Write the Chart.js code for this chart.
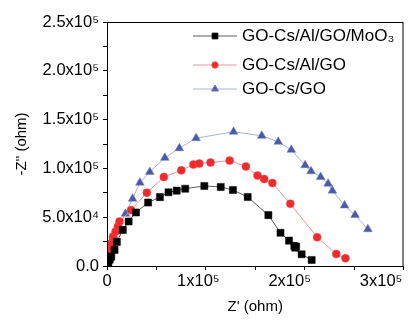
<!DOCTYPE html>
<html>
<head>
<meta charset="utf-8">
<script src="https://cdn.jsdelivr.net/npm/chart.js@4.4.1/dist/chart.umd.min.js"></script>
<style>
  html, body { margin: 0; padding: 0; background: #fff; }
  #wrap { width: 409px; height: 320px; }
</style>
</head>
<body>
<div id="wrap"><canvas id="nyquist" width="409" height="320"></canvas></div>
<script>
// values, in units of 1e4 ohm
const moo3X = [0.05, 0.15, 0.3, 0.47, 0.83, 1.08, 1.73, 2.37, 3.17, 4.5, 5.79, 6.73, 7.63, 8.56, 10.65, 12.45, 13.78, 15.4, 17.66, 18.99, 19.92, 20.5, 20.7, 20.6, 21.3, 22.4];
const moo3Y = [0.1, 0.35, 0.65, 0.96, 1.65, 2.47, 3.7, 4.56, 5.49, 6.5, 7.06, 7.55, 7.72, 7.92, 8.2, 8.1, 7.79, 7.07, 5.21, 3.4, 2.6, 2.06, 1.99, 1.88, 1.2, 0.62];

const alGoX = [0.1, 0.2, 0.35, 0.5, 0.65, 0.94, 1.19, 1.37, 2.63, 4.36, 6.22, 8.13, 9.46, 10.1, 11.33, 13.42, 15.2, 16.47, 17.2, 18.1, 20.06, 23.0, 25.1, 26.1];
const alGoY = [0.3, 0.9, 1.6, 2.3, 3.0, 3.53, 4.04, 4.56, 5.73, 7.51, 9.12, 9.8, 10.39, 10.49, 10.6, 10.8, 10.2, 9.26, 8.92, 8.5, 6.38, 2.95, 1.23, 0.79];

const csGoX = [0.05, 0.1, 0.15, 0.2, 0.3, 0.4, 0.5, 0.6, 0.75, 0.9, 1.26, 2.02, 2.8, 3.6, 4.68, 6.33, 7.92, 9.75, 13.85, 16.94, 18.74, 20.17, 21.68, 22.33, 23.38, 24.2, 24.67, 26.0, 27.15, 28.55];
const csGoY = [0.2, 0.6, 1.0, 1.4, 1.8, 2.2, 2.5, 2.8, 3.1, 3.5, 4.1, 5.35, 6.89, 8.54, 9.64, 11.08, 12.07, 13.1, 13.75, 13.34, 12.73, 11.9, 10.32, 9.7, 9.12, 8.44, 7.72, 6.2, 5.22, 3.77];

const seriesNames = ["GO-Cs/Al/GO/MoO\u2083", "GO-Cs/Al/GO", "GO-Cs/GO"];
const xTickValues = [0, 1e5, 2e5, 3e5];
const xTickLabels = ["0", "1x10\u2075", "2x10\u2075", "3x10\u2075"];
const yTickLabels = ["0.0", "5.0x10\u2074", "1.0x10\u2075", "1.5x10\u2075", "2.0x10\u2075", "2.5x10\u2075"];

const FONT = "'Liberation Sans', Arial, sans-serif";

function pts(xs, ys) {
  return xs.map((x, i) => ({ x: x * 1e4, y: ys[i] * 1e4 }));
}

// only every second minor tick gets a label
function majorLabel(labels, step) {
  return v => {
    const k = Math.round(v / step);
    return k % 2 === 0 ? (labels[k / 2] || "") : "";
  };
}

// x labels drawn by hand: chart.js shrinks the plot for the last label otherwise
const xLabels = {
  id: "xLabels",
  afterDraw(chart) {
    const ctx = chart.ctx;
    const xs = chart.scales.x;
    ctx.save();
    ctx.fillStyle = "#000";
    ctx.font = "16.5px " + FONT;
    ctx.textAlign = "center";
    ctx.textBaseline = "top";
    xTickValues.forEach((v, i) => {
      ctx.fillText(xTickLabels[i], xs.getPixelForValue(v), chart.chartArea.bottom + 7);
    });
    ctx.restore();
  }
};

// legend drawn inside the plot, top right
const insideLegend = {
  id: "insideLegend",
  afterDatasetsDraw(chart) {
    const ctx = chart.ctx;
    const rows = [36, 65, 89];
    ctx.save();
    chart.data.datasets.forEach((ds, i) => {
      const y = rows[i];
      ctx.strokeStyle = ds.borderColor;
      ctx.lineWidth = 1;
      ctx.beginPath();
      ctx.moveTo(193, y);
      ctx.lineTo(237, y);
      ctx.stroke();
      ctx.fillStyle = ds.pointBackgroundColor;
      ctx.strokeStyle = ds.pointBorderColor;
      Chart.helpers.drawPoint(ctx, {
        pointStyle: ds.pointStyle,
        radius: ds.pointRadius * 0.8,
        borderWidth: 0.5
      }, 215, y);
      ctx.fillStyle = "#000";
      ctx.font = "17px " + FONT;
      ctx.textBaseline = "middle";
      ctx.textAlign = "left";
      ctx.fillText(ds.label, 242, y);
    });
    ctx.restore();
  }
};

// box round the plot area
const frame = {
  id: "frame",
  afterDraw(chart) {
    const a = chart.chartArea;
    const ctx = chart.ctx;
    ctx.save();
    ctx.strokeStyle = "#000";
    ctx.lineWidth = 1;
    ctx.strokeRect(a.left + 0.5, a.top + 0.5, a.right - a.left - 1, a.bottom - a.top);
    ctx.restore();
  }
};

new Chart(document.getElementById("nyquist").getContext("2d"), {
  type: "scatter",
  data: {
    datasets: [
      {
        label: seriesNames[0],
        data: pts(moo3X, moo3Y),
        showLine: true,
        borderColor: "#5a5a5a",
        borderWidth: 1,
        pointStyle: "rect",
        pointRadius: 5,
        pointBackgroundColor: "#000",
        pointBorderColor: "#000",
        pointBorderWidth: 0.5
      },
      {
        label: seriesNames[1],
        data: pts(alGoX, alGoY),
        showLine: true,
        borderColor: "#f49494",
        borderWidth: 1,
        pointStyle: "circle",
        pointRadius: 4,
        pointBackgroundColor: "#ee2a2a",
        pointBorderColor: "#f05050",
        pointBorderWidth: 0.5
      },
      {
        label: seriesNames[2],
        data: pts(csGoX, csGoY),
        showLine: true,
        borderColor: "#a9b1dc",
        borderWidth: 1,
        pointStyle: "triangle",
        pointRadius: 5,
        pointBackgroundColor: "#4a5aa8",
        pointBorderColor: "#6b79bb",
        pointBorderWidth: 0.5
      }
    ]
  },
  options: {
    responsive: false,
    animation: false,
    layout: { padding: { top: 22, right: -3.5, left: 0, bottom: 0 } },
    plugins: {
      legend: { display: false },
      tooltip: { enabled: false }
    },
    scales: {
      x: {
        type: "linear",
        min: 0,
        max: 3.245e5,
        afterFit: s => {
          s.height = 54;
          s.paddingLeft = 0;
          s.paddingRight = 0;
        },
        border: { display: true, color: "#000", width: 1 },
        grid: { drawOnChartArea: false, tickLength: 4, color: "#000" },
        ticks: {
          stepSize: 5e4,
          includeBounds: false,
          autoSkip: false,
          maxRotation: 0,
          callback: () => ""
        },
        title: {
          display: true,
          text: "Z' (ohm)",
          color: "#000",
          font: { family: FONT, size: 15 },
          padding: { top: 0, bottom: 4 }
        }
      },
      y: {
        type: "linear",
        min: 0,
        max: 2.5e5,
        afterFit: s => {
          s.width = 107;
        },
        border: { display: true, color: "#000", width: 1 },
        grid: { drawOnChartArea: false, tickLength: 4, color: "#000" },
        ticks: {
          stepSize: 2.5e4,
          autoSkip: false,
          padding: 4,
          color: "#000",
          font: { family: FONT, size: 16.5 },
          callback: majorLabel(yTickLabels, 2.5e4)
        },
        title: {
          display: true,
          text: "-Z'' (ohm)",
          color: "#000",
          font: { family: FONT, size: 15 },
          padding: { top: 13, bottom: 0 }
        }
      }
    }
  },
  plugins: [frame, insideLegend, xLabels]
});
</script>
</body>
</html>
